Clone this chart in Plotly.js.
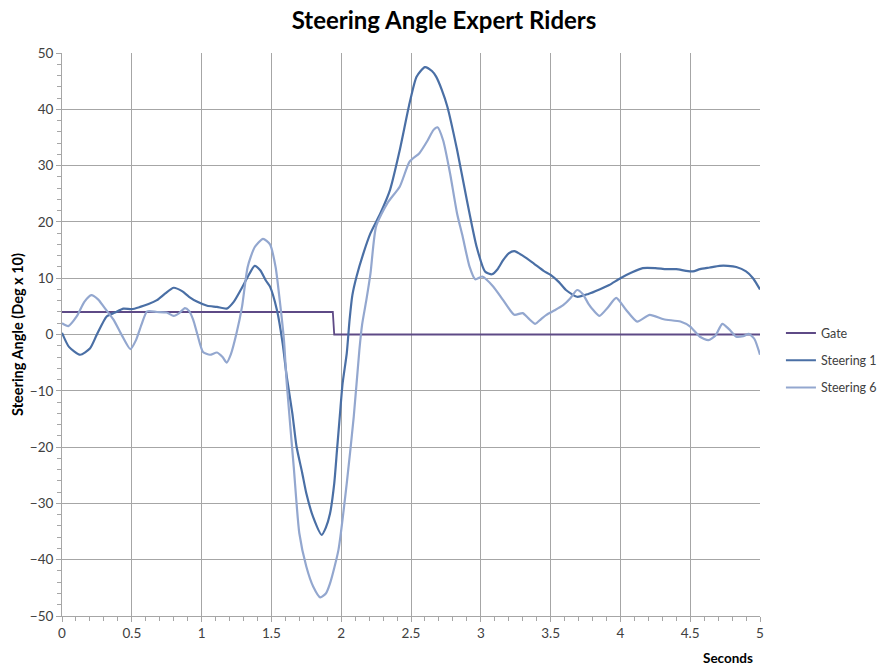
<!DOCTYPE html>
<html>
<head>
<meta charset="utf-8">
<script src="https://cdn.plot.ly/plotly-3.0.1.min.js"></script>
<style>html,body{margin:0;padding:0;background:#fff;}#chart{width:888px;height:666px;}</style>
</head>
<body>
<div id="chart"></div>
<script>
const gateX = [0, 1.94, 1.95, 5];
const gateY = [4, 4, 0, 0];

const steer1X = [0, 0.05, 0.13, 0.2, 0.25, 0.32, 0.38, 0.44, 0.5, 0.56, 0.62, 0.68, 0.74, 0.8, 0.86, 0.91, 0.97, 1.04, 1.11, 1.18, 1.23, 1.28, 1.33, 1.38, 1.42, 1.46, 1.49, 1.54, 1.58, 1.61, 1.65, 1.68, 1.72, 1.75, 1.8, 1.86, 1.89, 1.92, 1.95, 1.97, 1.99, 2.01, 2.04, 2.06, 2.08, 2.11, 2.16, 2.21, 2.28, 2.35, 2.42, 2.49, 2.54, 2.6, 2.65, 2.68, 2.72, 2.76, 2.83, 2.9, 2.97, 3.03, 3.08, 3.12, 3.16, 3.2, 3.24, 3.3, 3.38, 3.45, 3.5, 3.56, 3.61, 3.69, 3.77, 3.85, 3.92, 4.0, 4.08, 4.16, 4.25, 4.33, 4.4, 4.47, 4.52, 4.57, 4.64, 4.71, 4.77, 4.83, 4.9, 4.95, 5.0];
const steer1Y = [0.3, -2.2, -3.6, -2.5, 0, 3.2, 3.9, 4.6, 4.5, 4.9, 5.4, 6.1, 7.3, 8.3, 7.7, 6.7, 5.8, 5.1, 4.9, 4.6, 5.8, 7.9, 10.2, 12.2, 11.4, 9.6, 8.5, 4.3, -1.5, -7.5, -14.0, -19.9, -24.5, -28.2, -32.5, -35.6, -34.3, -31.8, -26.5, -20.5, -14.5, -8.7, -3.3, 2.6, 7.0, 10.3, 14.5, 18.0, 21.5, 25.7, 32.8, 41.1, 45.8, 47.5, 46.8, 45.8, 43.5, 40.5, 32.8, 23.9, 15.6, 11.2, 10.7, 11.6, 13.2, 14.4, 14.8, 14.0, 12.6, 11.3, 10.6, 9.3, 7.9, 6.7, 7.2, 8.0, 8.8, 10.0, 11.0, 11.8, 11.8, 11.6, 11.6, 11.3, 11.2, 11.6, 11.9, 12.2, 12.2, 12.0, 11.2, 10.0, 8.0];

const steer6X = [0, 0.045, 0.105, 0.16, 0.21, 0.26, 0.3, 0.37, 0.43, 0.49, 0.53, 0.57, 0.61, 0.68, 0.75, 0.8, 0.84, 0.88, 0.91, 0.94, 0.97, 1.01, 1.06, 1.11, 1.15, 1.18, 1.21, 1.25, 1.29, 1.33, 1.38, 1.44, 1.49, 1.53, 1.56, 1.59, 1.61, 1.66, 1.7, 1.75, 1.8, 1.85, 1.89, 1.92, 1.98, 2.04, 2.09, 2.13, 2.15, 2.18, 2.21, 2.25, 2.33, 2.42, 2.49, 2.56, 2.62, 2.66, 2.69, 2.73, 2.78, 2.83, 2.87, 2.92, 2.96, 3.01, 3.09, 3.16, 3.24, 3.3, 3.34, 3.39, 3.43, 3.47, 3.53, 3.59, 3.64, 3.69, 3.73, 3.77, 3.81, 3.85, 3.91, 3.97, 4.04, 4.12, 4.21, 4.31, 4.43, 4.5, 4.57, 4.63, 4.68, 4.73, 4.78, 4.83, 4.88, 4.92, 4.96, 5.0];
const steer6Y = [2.0, 1.5, 3.2, 5.8, 7.0, 6.2, 4.9, 2.6, -0.2, -2.6, -1.0, 1.8, 4.1, 4.0, 3.9, 3.3, 3.8, 4.7, 4.2, 2.6, 0.0, -3.1, -3.6, -3.2, -4.0, -5.0, -3.5, 0.2, 5.0, 12.0, 15.5, 17.0, 16.0, 12.0, 6.0, -1.0, -8.7, -23.5, -35.3, -41.2, -44.8, -46.7, -46.0, -44.2, -38.3, -26.4, -14.6, -2.8, 1.8, 6.1, 10.9, 19.2, 23.3, 26.3, 30.7, 32.2, 34.5, 36.3, 36.8, 34.5, 28.6, 21.5, 17.4, 12.0, 9.8, 10.3, 8.5, 6.1, 3.5, 3.8, 2.9, 1.9, 2.7, 3.5, 4.3, 5.2, 6.4, 7.9, 7.2, 5.5, 4.2, 3.3, 4.8, 6.5, 4.4, 2.3, 3.5, 2.7, 2.3, 1.4, -0.4, -1.0, -0.2, 1.9, 0.9, -0.4, -0.3, 0.1, -0.8, -3.6];

const xTickVals = [0, 0.5, 1, 1.5, 2, 2.5, 3, 3.5, 4, 4.5, 5];
const xTickText = ['0', '0.5', '1', '1.5', '2', '2.5', '3', '3.5', '4', '4.5', '5'];
const yTickVals = [-50, -40, -30, -20, -10, 0, 10, 20, 30, 40, 50];

const FONT = 'Lato, "Open Sans", sans-serif';

const traces = [
  {x: gateX, y: gateY, name: 'Gate', mode: 'lines', legendgroup: 'a',
   line: {color: '#5e4a86', width: 1.8}},
  {x: steer1X, y: steer1Y, name: 'Steering 1', mode: 'lines', legendgroup: 'b',
   line: {color: '#4a6fa5', width: 2.2, shape: 'spline', smoothing: 0.6}},
  {x: steer6X, y: steer6Y, name: 'Steering 6', mode: 'lines', legendgroup: 'c',
   line: {color: '#93a7cf', width: 2.2, shape: 'spline', smoothing: 0.6}}
];

const layout = {
  width: 888, height: 666,
  paper_bgcolor: '#ffffff', plot_bgcolor: '#ffffff',
  margin: {l: 62, r: 128, t: 53, b: 50, autoexpand: false},
  font: {family: FONT, size: 13, color: '#404040'},
  title: {text: '<b>Steering Angle Expert Riders</b>', x: 0.5, xanchor: 'center', y: 0.969, yanchor: 'middle',
          font: {family: FONT, size: 24, color: '#000000'}},
  showlegend: true,
  legend: {x: 1.03, xanchor: 'left', y: 0.454, yanchor: 'middle', traceorder: 'grouped', tracegroupgap: 8,
           font: {family: FONT, size: 12.5, color: '#404040'}, bgcolor: 'rgba(0,0,0,0)'},
  xaxis: {
    range: [0, 5], tickmode: 'array', tickvals: xTickVals, ticktext: xTickText,
    showgrid: true, gridcolor: '#a6a6a6', gridwidth: 1,
    showline: true, linecolor: '#a6a6a6', linewidth: 1,
    ticks: 'outside', ticklen: 5, tickcolor: '#a6a6a6',
    minor: {dtick: 0.1, ticks: 'outside', ticklen: 4, tickcolor: '#a6a6a6', showgrid: false},
    zeroline: false, tickfont: {family: FONT, size: 13.5, color: '#404040'}
  },
  yaxis: {
    range: [-50, 50], tickmode: 'array', tickvals: yTickVals,
    showgrid: true, gridcolor: '#a6a6a6', gridwidth: 1,
    showline: true, linecolor: '#a6a6a6', linewidth: 1,
    ticks: 'outside', ticklen: 5, tickcolor: '#a6a6a6',
    minor: {dtick: 2, ticks: 'outside', ticklen: 4, tickcolor: '#a6a6a6', showgrid: false},
    zeroline: false, tickfont: {family: FONT, size: 13.5, color: '#404040'},
    title: {text: '<b>Steering Angle (Deg x 10)</b>', standoff: 2, font: {family: FONT, size: 14.5, color: '#000000'}}
  },
  annotations: [
    {text: '<b>Seconds</b>', xref: 'paper', yref: 'paper', x: 0.993, y: 0, xanchor: 'right', yanchor: 'top',
     yshift: -32, showarrow: false, font: {family: FONT, size: 13.5, color: '#000000'}}
  ]
};

Plotly.newPlot('chart', traces, layout, {displayModeBar: false, staticPlot: true});
</script>
</body>
</html>
